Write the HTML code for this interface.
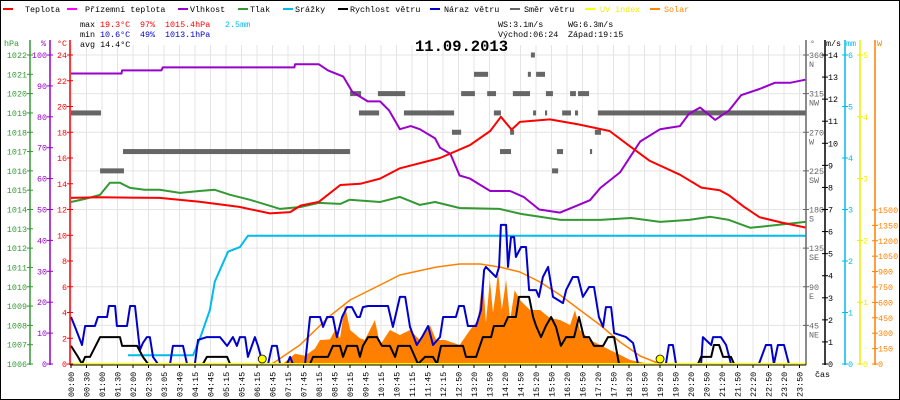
<!DOCTYPE html>
<html><head><meta charset="utf-8">
<style>
html,body{margin:0;padding:0;background:#fff;}
svg{display:block;font-family:"Liberation Mono",monospace;}
text{font-size:8.4px;}
</style></head>
<body>
<svg id="chart" width="900" height="400" viewBox="0 0 900 400" xmlns="http://www.w3.org/2000/svg">
<rect x="0.5" y="0.5" width="899" height="399" fill="#fff" stroke="#000"/>
<g id="grid"></g>
<g id="series"></g>
<g id="axes"></g>
<g>
 <g><rect x="3" y="8" width="10" height="2" fill="#f00"/><text x="25" y="12">Teplota</text></g>
 <g><rect x="67" y="8" width="10" height="2" fill="#f0f"/><text x="85" y="12">Přízemní teplota</text></g>
 <g><rect x="178" y="8" width="10" height="2" fill="#90c"/><text x="190" y="12">Vlhkost</text></g>
 <g><rect x="238" y="8" width="10" height="2" fill="#393"/><text x="250" y="12">Tlak</text></g>
 <g><rect x="283" y="8" width="10" height="2" fill="#0be"/><text x="295" y="12">Srážky</text></g>
 <g><rect x="338" y="8" width="10" height="2" fill="#000"/><text x="350" y="12">Rychlost větru</text></g>
 <g><rect x="430" y="8" width="10" height="2" fill="#00c"/><text x="444" y="12">Náraz větru</text></g>
 <g><rect x="510" y="8" width="10" height="2" fill="#666"/><text x="524" y="12">Směr větru</text></g>
 <g><rect x="585" y="8" width="10" height="2" fill="#ff0"/><text x="600" y="12" fill="#ee0">UV index</text></g>
 <g><rect x="650" y="8" width="10" height="2" fill="#f80"/><text x="664" y="12" fill="#f80">Solar</text></g>
</g>
<g>
 <text x="80" y="27">max</text><text x="100" y="27" fill="#f00">19.3°C</text><text x="140" y="27" fill="#f00">97%</text><text x="165" y="27" fill="#f00">1015.4hPa</text><text x="225" y="27" fill="#0be">2.5mm</text>
 <text x="80" y="37">min</text><text x="100" y="37" fill="#00c">10.6°C</text><text x="140" y="37" fill="#00c">49%</text><text x="165" y="37" fill="#00c">1013.1hPa</text>
 <text x="80" y="47">avg 14.4°C</text>
 <text x="498" y="27">WS:3.1m/s</text><text x="568" y="27">WG:6.3m/s</text>
 <text x="498" y="37">Východ:06:24</text><text x="568" y="37">Západ:19:15</text>
</g>
<text x="415" y="51" style="font-size:15.5px;font-weight:bold">11.09.2013</text>
<text x="815" y="377">čas</text>
</svg>
<script>
// ---- data (time in hours) ----
const timeLabels=["00:00","00:30","01:00","01:30","02:00","02:30","03:05","03:40","04:15","04:45","05:15","05:45","06:15","06:45","07:15","07:45","08:15","08:45","09:15","09:45","10:15","10:45","11:15","11:45","12:15","12:50","13:20","13:50","14:20","14:50","15:20","15:50","16:20","16:50","17:20","17:50","18:20","18:50","19:20","19:50","20:20","20:50","21:20","21:50","22:20","22:50","23:20","23:50"];
const tempT=[0,0.95,2.9,4.2,5.5,6.5,7.16,7.5,8.1,8.8,9.45,10.1,10.75,12.06,13.04,13.7,14.05,14.4,14.67,15.65,16.6,17.6,18.27,18.9,19.9,20.6,21.2,21.5,22.0,22.5,23.2,24];
const tempV=[12.9,12.95,12.9,12.6,12.2,11.7,11.8,12.3,12.6,13.9,14.0,14.4,15.2,16.0,17.0,18.1,19.2,18.2,18.8,19.0,18.6,18.1,16.9,15.8,14.7,13.7,13.5,13.1,12.2,11.4,11.0,10.6];
const humT=[0,1.65,1.67,2.95,3.0,7.3,7.32,8.1,8.4,8.9,9.2,9.7,10.1,10.4,10.75,11.1,11.4,11.9,12.06,12.4,12.7,13.04,13.7,14.35,14.8,15.3,15.98,16.47,16.96,17.3,17.94,18.6,19.25,19.9,20.2,20.56,21.05,21.5,21.9,22.5,23.0,23.5,24];
const humV=[94,94,95,95,96,96,97,97,95,93,88,85,85,82,76,77,76,73,70,68,61,60,56,56,54,50,49,51,53,57,62,72,76,77,81,83,79,82,87,89,91,91,92];
const presT=[0,0.46,0.95,1.27,1.6,1.93,2.4,2.9,3.56,4.2,4.7,5.2,5.85,6.5,6.83,7.5,8.1,8.8,9.1,10.1,10.75,11.4,11.9,12.7,14.0,14.7,16.0,17.3,18.3,19.25,20.2,20.9,21.5,22.2,22.8,24];
const presV=[1014.39,1014.55,1014.76,1015.38,1015.38,1015.12,1015.02,1015.02,1014.86,1014.96,1015.02,1014.76,1014.5,1014.19,1014.03,1014.13,1014.34,1014.29,1014.5,1014.39,1014.65,1014.24,1014.39,1014.08,1014.03,1013.77,1013.46,1013.46,1013.56,1013.36,1013.46,1013.62,1013.46,1013.05,1013.15,1013.36];
const rainT=[1.86,3.99,4.2,4.54,4.7,4.87,5.13,5.52,5.78,24];
const rainV=[0.17,0.17,0.47,1.05,1.6,1.83,2.18,2.27,2.49,2.49];
const gustT=[0,.13,.36,.46,.78,.88,1.18,1.24,1.44,1.5,1.83,1.93,2.09,2.25,2.35,2.48,2.58,2.68,2.84,3.24,3.33,3.66,3.79,4.05,4.15,4.44,4.87,5.1,5.29,5.42,5.52,5.69,5.78,6.01,6.11,6.27,6.44,6.57,6.73,6.83,7.06,7.16,7.25,7.65,7.81,8.14,8.24,8.37,8.56,8.69,8.86,9.02,9.18,9.35,9.44,9.54,9.71,10.36,10.52,10.75,10.92,11.08,11.3,11.47,11.67,11.83,12.06,12.16,12.58,12.68,12.84,12.97,13.24,13.4,13.5,13.56,13.89,13.99,14.05,14.22,14.28,14.38,14.48,14.54,14.71,14.87,14.97,15.2,15.29,15.42,15.59,15.75,16.08,16.18,16.4,16.57,16.73,16.93,17.09,17.25,17.39,17.48,17.65,17.75,18.14,18.37,18.53,19.44,19.54,19.67,19.77,20.59,20.65,20.92,20.98,21.24,21.41,21.57,22.48,22.71,22.88,22.97,23.1,23.3,23.46,24];
const gustV=[2.13,1.68,.86,1.72,1.72,2.13,2.13,2.63,2.63,1.72,1.72,2.63,2.63,.63,.95,1.22,1.22,.32,0,0,.82,.82,0,0,1.09,1.22,1.22,.82,1.22,.82,1.22,1.22,.32,1.22,.82,0,0,.82,.82,0,0,.32,0,0,2.13,2.13,1.68,2.13,2.13,1.22,2.13,2.58,2.58,2.13,2.13,2.58,2.63,2.63,1.68,3.04,3.04,1.68,.86,1.22,1.72,.86,1.22,2.13,2.13,2.63,2.63,1.72,1.72,2.45,4.26,4.4,3.94,4.4,6.3,6.3,4.4,5.75,5.75,4.85,5.3,5.3,3.35,3.35,3.04,3.94,4.4,3.04,2.76,3.35,3.94,3.94,3.04,3.49,3.49,2.13,1.68,2.58,2.58,1.4,1.22,.95,0,0,.86,.86,0,0,1.22,.86,1.22,1.22,.86,0,0,.86,.86,0,.86,.86,0,0];
const windT=[0,.23,.36,.46,.62,.95,1.6,1.67,2.16,2.35,2.52,4.31,4.44,5.1,5.2,7.81,7.91,8.4,8.56,8.79,8.89,9.02,9.35,9.44,9.54,9.71,10,10.16,10.42,10.59,10.69,11.08,11.24,11.34,11.57,11.83,11.96,12.09,12.81,12.91,13.24,13.46,13.73,13.82,14.15,14.28,14.54,14.64,14.97,15.1,15.2,15.36,15.52,15.69,15.85,16.01,16.18,16.44,16.6,16.76,16.93,17.09,17.39,17.55,17.75,17.91,20.49,20.59,20.92,21.01,21.18,21.31,21.57,21.67,24];
const windV=[.82,.32,0,.32,.32,1.22,1.22,.82,.82,.32,0,0,.32,.32,0,0,.32,.32,.82,.82,.32,.82,.82,.32,.82,1.22,1.22,.82,.82,.32,.82,.82,.32,0,.32,.32,0,.82,.82,.32,.32,1.22,1.22,1.72,1.72,2.13,2.13,3.04,3.04,2.13,1.72,1.22,1.72,2.13,1.68,.82,1.22,1.22,2.13,1.22,1.22,.82,.82,1.22,1.22,0,0,.32,.32,.86,.86,.32,.32,0,0];
const solarMaxT=[6.57,7.48,8.46,9.12,10.1,10.75,11.93,12.7,13.37,14.02,14.67,15.33,15.98,16.63,17.29,17.94,18.6,19.25];
const solarMaxV=[0,185,467,623,769,867,944,974,974,944,896,798,672,526,380,214,78,0];
const solarT=[6.9,7.0,7.32,7.65,7.97,8.14,8.46,8.63,8.79,8.95,9.12,9.44,9.6,9.93,10.1,10.42,10.75,11.08,11.4,11.73,11.93,12.22,12.7,13.04,13.3,13.46,13.56,13.69,13.79,13.89,13.95,14.08,14.22,14.35,14.5,14.67,14.84,15.0,15.33,15.65,15.98,16.31,16.47,16.63,16.96,17.29,17.61,17.94,18.27,18.6,18.92];
const solarV=[0,20,100,80,150,234,240,331,250,574,331,250,234,428,185,331,282,331,234,380,234,234,185,331,428,867,400,818,500,720,915,526,818,428,720,623,574,526,526,448,428,380,526,331,234,185,136,90,39,19,0];
const dirStart=[0,0.95,1.7,9.12,10.03,9.41,10.88,11.93,15.03,13.17,14.93,15.2,12.75,13.6,14.44,15.52,16.31,16.57,13.82,15.1,15.49,16.05,16.47,17.22,12.45,14.35,17.12,14.02,15.88,16.96,15.72];
const dirEnd=[0.98,1.73,9.12,9.48,10.92,10.07,12.06,12.52,15.16,13.63,15.03,15.49,13.2,13.89,15.0,15.75,16.5,16.93,14.05,15.2,15.56,16.34,16.57,24,12.75,14.48,17.32,14.38,16.08,17.03,15.92];
const dirDeg=[292.5,225,247.5,315,315,292.5,292.5,292.5,360,337.5,337.5,337.5,315,315,315,315,315,315,292.5,292.5,292.5,292.5,292.5,292.5,270,270,270,247.5,247.5,247.5,225];
const sunEvents=[6.25,19.25];
// tick labels
const hpaTicks=[1006,1007,1008,1009,1010,1011,1012,1013,1014,1015,1016,1017,1018,1019,1020,1021,1022];
const humTicks=[0,10,20,30,40,50,60,70,80,90,100];
const tempTicks=[0,2,4,6,8,10,12,14,16,18,20,22,24];
const dirTicks=[45,90,135,180,225,270,315,360];
const dirNames=["NE","E","SE","S","SW","W","NW","N"];
const msTicks=[0,1,2,3,4,5,6,7,8,9,10,11,12,13,14];
const mmTicks=[0,1,2,3,4,5,6];
const uvTicks=[0,1,2,3,4,5];
const wTicks=[0,150,300,450,600,750,900,1050,1200,1350,1500];

// ---- scales ----
const TOP=55,BOT=364,H=BOT-TOP,L=70,R=806;
const X=t=>Math.min(R,Math.max(L,71+t*30.6));
const yT=v=>BOT-v/24*H, yHum=v=>BOT-v/100*H, yP=v=>BOT-(v-1006)/16*H;
const yMm=v=>BOT-v/6*H, yMs=v=>BOT-v/14*H, yUv=v=>BOT-v/5*H, yW=v=>BOT-v*0.1027, yDir=v=>BOT-v/360*H;
const NS="http://www.w3.org/2000/svg";
function mk(tag,attrs,parent){const e=document.createElementNS(NS,tag);for(const k in attrs)e.setAttribute(k,attrs[k]);parent.appendChild(e);return e;}
const grid=document.getElementById('grid'),ser=document.getElementById('series'),ax=document.getElementById('axes');

// grid
for(let k=0;k<=8;k++){const y=TOP+k*H/8;const g=mk('line',{x1:L,x2:R,y1:y,y2:y,stroke:'#e4e4e4','stroke-width':1},grid);

}
timeLabels.forEach((lab,i)=>{const x=71+i*15.5;
 const g=mk('line',{x1:x,x2:x,y1:TOP-10,y2:BOT,stroke:'#e4e4e4','stroke-width':1},grid);
 
 
 const tk=mk('line',{x1:x,x2:x,y1:BOT+1,y2:BOT+4,stroke:'#000','stroke-width':1},ax);
 
 
 const t=mk('text',{x:0,y:0,transform:`translate(${x+3},397) rotate(-90)`},ax);t.textContent=lab;
 
 });

function line(ts,vs,yf,color,w,name){const pts=ts.map((t,i)=>X(t).toFixed(1)+','+yf(vs[i]).toFixed(1)).join(' ');
 const p=mk('polyline',{points:pts,fill:'none',stroke:color,'stroke-width':w,'stroke-linejoin':'round'},ser);
 
 return p;}

// solar area
{const pts=solarT.map((t,i)=>X(t).toFixed(1)+','+yW(solarV[i]).toFixed(1));
 pts.unshift(X(solarT[0]).toFixed(1)+','+BOT);pts.push(X(solarT[solarT.length-1]).toFixed(1)+','+BOT);
 const p=mk('polygon',{points:pts.join(' '),fill:'#ff8000'},ser);
 
 }
line(solarMaxT,solarMaxV,yW,'#ff8000',1.5,'solar-theoretical-line');
// direction bars
dirDeg.forEach((d,i)=>{const x1=X(dirStart[i]),x2=X(dirEnd[i]);
 const r=mk('rect',{x:x1,y:yDir(d)-2.5,width:Math.max(2,x2-x1),height:5,fill:'#666'},ser);
 
 });
line(rainT,rainV,yMm,'#00bbee',2,'precipitation-line');
line(presT,presV,yP,'#339933',2,'pressure-line');
line(humT,humV,yHum,'#9900cc',2,'humidity-line');
line(tempT,tempV,yT,'#ff0000',2,'temperature-line');
line(gustT,gustV,yMs,'#0000cc',2,'wind-gust-line');
line(windT,windV,yMs,'#000000',2,'wind-speed-line');
// uv base line
{const p=mk('line',{x1:L,x2:R,y1:yUv(0),y2:yUv(0),stroke:'#ffff00','stroke-width':2},ser);
 
 }
sunEvents.forEach(t=>{const c=mk('circle',{cx:X(t),cy:BOT-5,r:4,fill:'#ffff00',stroke:'#000','stroke-width':0.8},ser);
 
 });

// axes
function vaxis(x,color,name,ticks,yf,labels,side,header,hx){
 const a=mk('line',{x1:x,x2:x,y1:40,y2:BOT+1,stroke:color,'stroke-width':1.5},ax);
 
 
 ticks.forEach((v,i)=>{const y=yf(v);
  const tk=mk('line',{x1:x-3,x2:x+3,y1:y,y2:y,stroke:color,'stroke-width':1},ax);
  
  
  const t=mk('text',{x:side<0?x-3:x+3,y:y+3,fill:color,'text-anchor':side<0?'end':'start'},ax);t.textContent=labels[i];
  
  });
 const h=mk('text',{x:hx,y:46,fill:color},ax);h.textContent=header;
 
 }
vaxis(30,'#339933','pressure-axis',hpaTicks,yP,hpaTicks.map(String),-1,'hPa',4);
vaxis(50,'#9900cc','humidity-axis',humTicks,yHum,humTicks.map(String),-1,'%',41);
vaxis(70,'#ff0000','temperature-axis',tempTicks,yT,tempTicks.map(String),-1,'°C',57);
vaxis(806,'#666666','direction-axis',dirTicks,yDir,dirTicks.map(String),1,'°',810);
dirTicks.forEach((v,i)=>{const t=mk('text',{x:809,y:yDir(v)+12,fill:'#666'},ax);t.textContent=dirNames[i];
 
 });
vaxis(825,'#000000','wind-speed-axis',msTicks,yMs,msTicks.map(String),1,'m/s',826);
vaxis(845,'#00bbee','precipitation-axis',mmTicks,yMm,mmTicks.map(String),1,'mm',846);
vaxis(860,'#eeee00','uv-axis',uvTicks,yUv,uvTicks.map(String),1,'',862);
vaxis(875,'#ff8000','solar-axis',wTicks,yW,wTicks.map(String),1,'W',877);
{const a=mk('line',{x1:L,x2:R,y1:BOT+1,y2:BOT+1,stroke:'#000','stroke-width':1},ax);
 
 }
</script>
</body></html>
